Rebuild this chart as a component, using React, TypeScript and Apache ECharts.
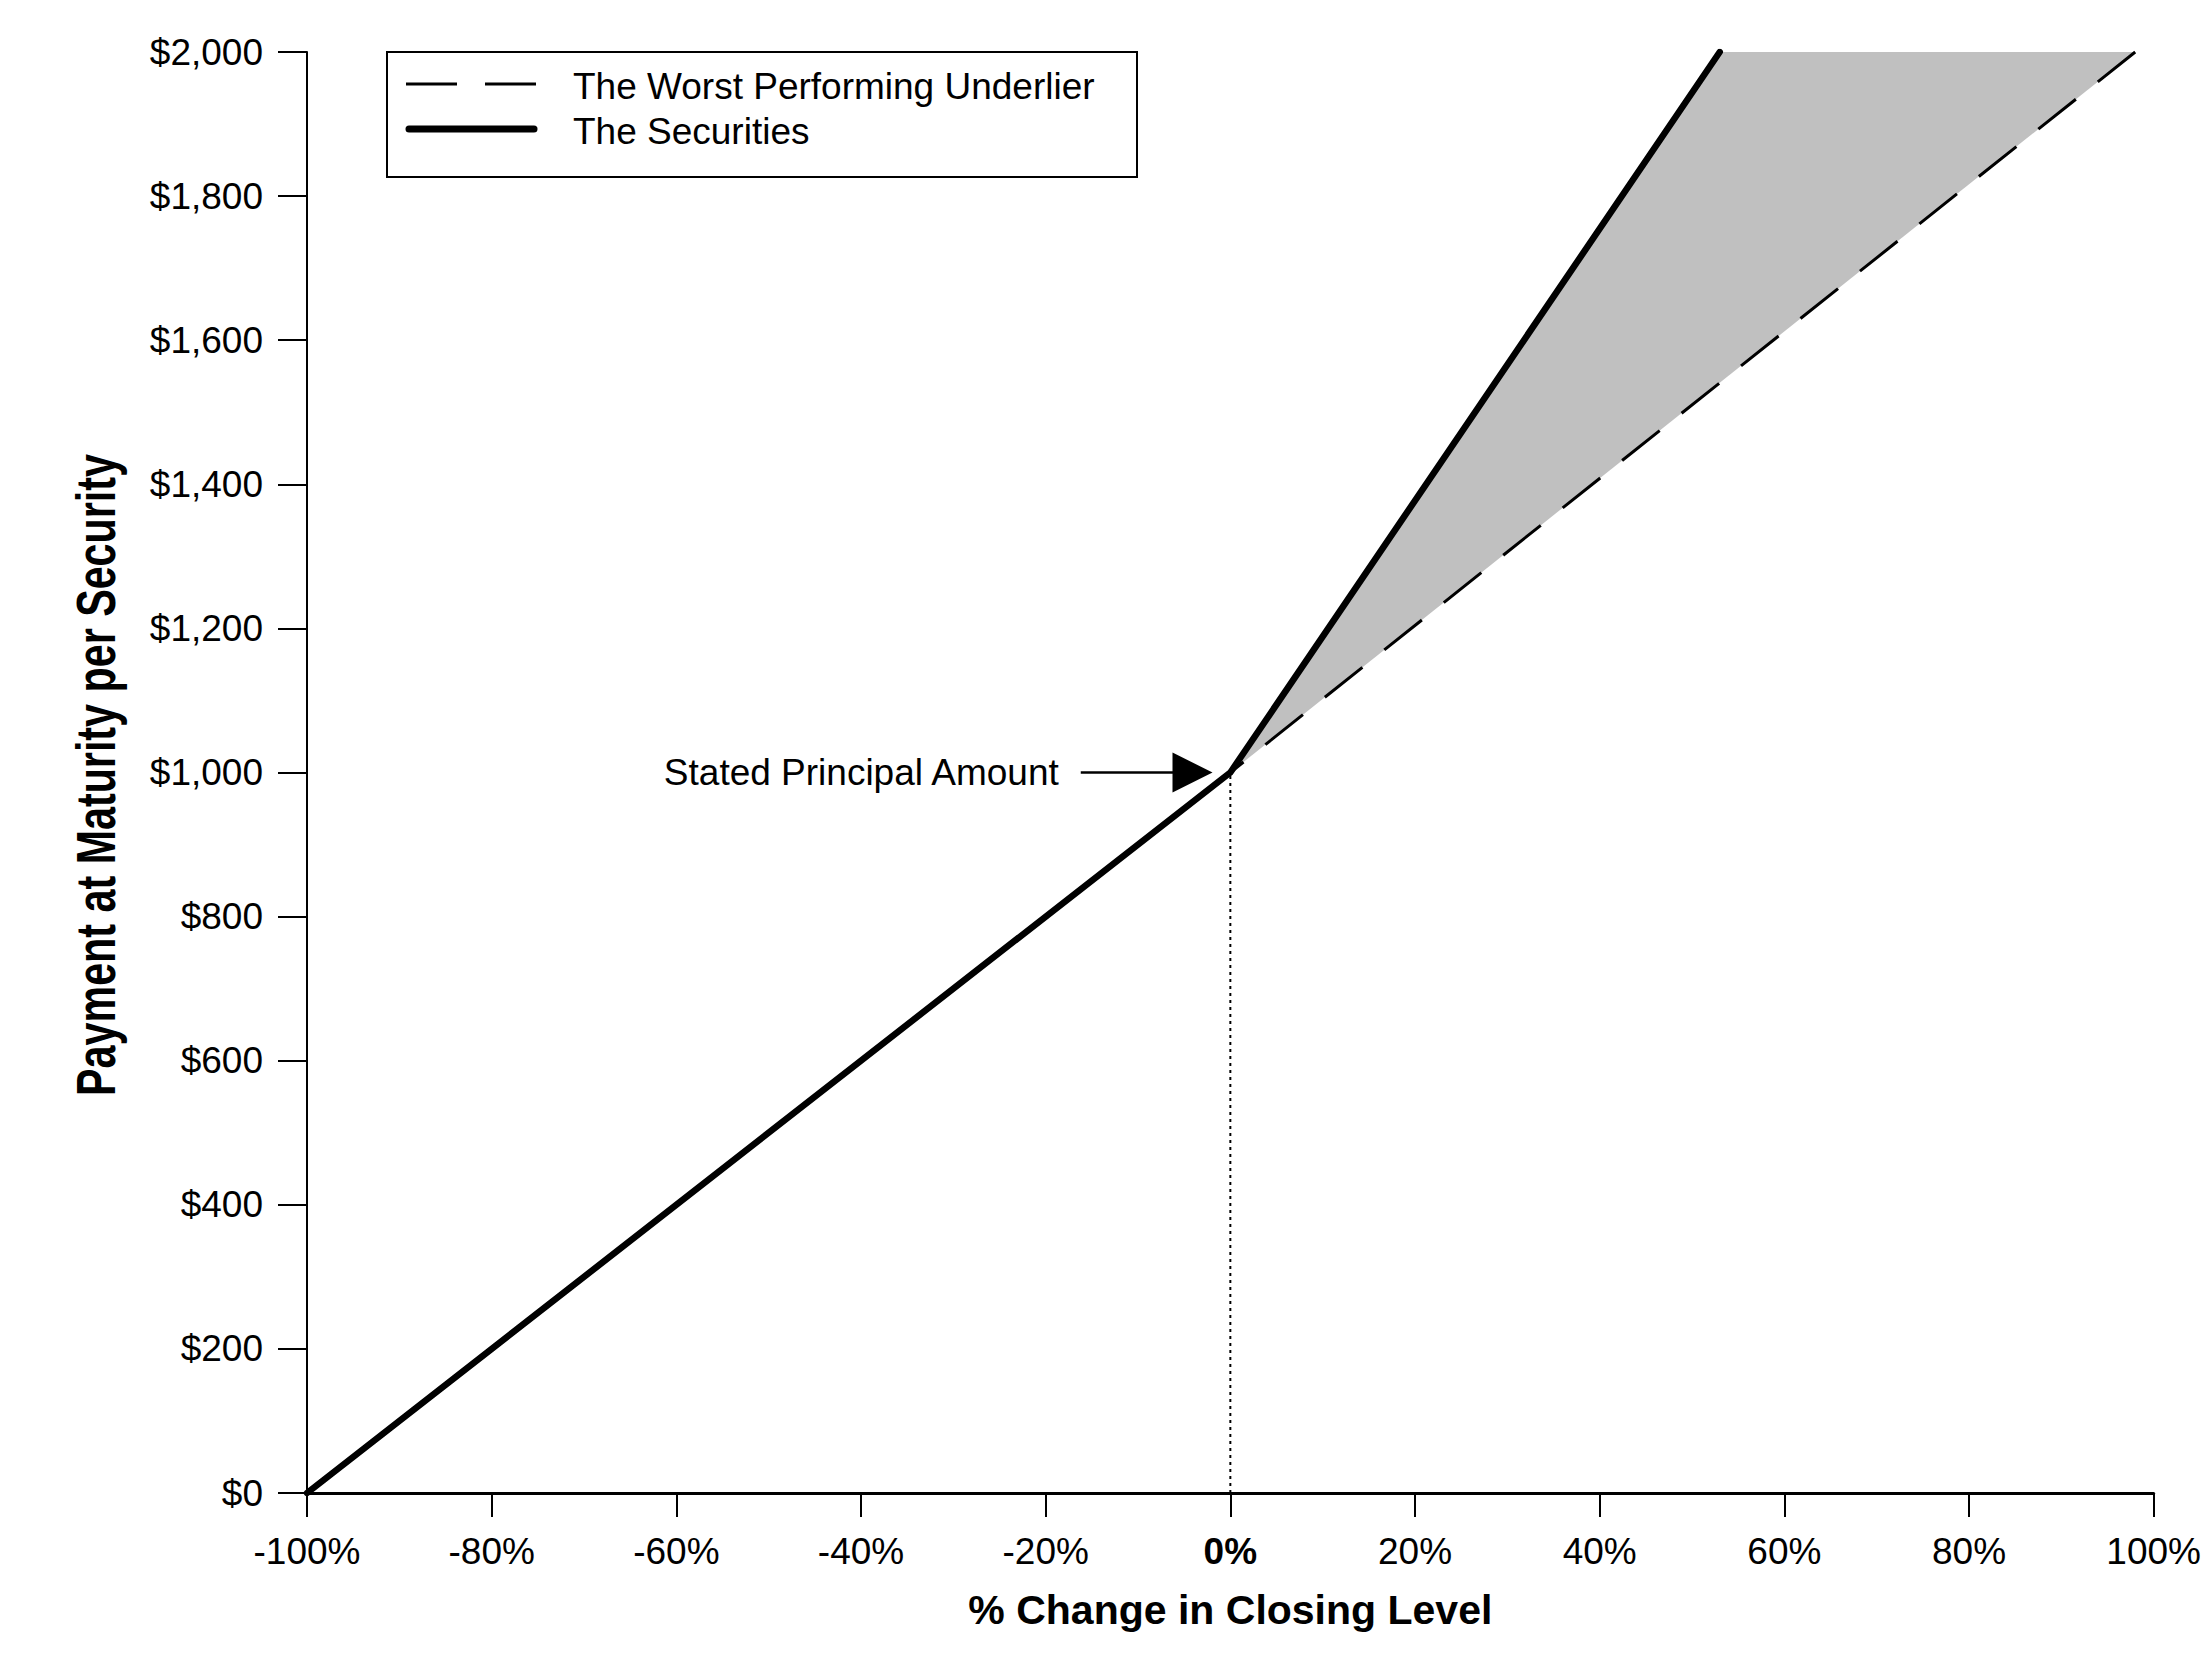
import React, { useEffect, useRef } from "react";
import * as echarts from "echarts";

// ---- data ----
const xMin = -100;
const xMax = 100;
const xStep = 20;
const yMin = 0;
const yMax = 2000;
const yStep = 200;

const seriesNames = ["The Worst Performing Underlier", "The Securities"];

// % change in closing level -> payment at maturity
const underlierX = [-100, 0, 98];
const underlierY = [0, 1000, 2000];
const securitiesX = [-100, 0, 53];
const securitiesY = [0, 1000, 2000];

// shaded out-performance region
const shadeX = [0, 53, 98];
const shadeY = [1000, 2000, 2000];

// dotted drop line at stated principal
const principalX = [0, 0];
const principalY = [0, 1000];

// annotation arrow
const arrowX = [-16.2, -4.1];
const arrowY = [1000, 1000];
const annotationText = "Stated Principal Amount";

const xTitle = "% Change in Closing Level";
const yTitle = "Payment at Maturity per Security";

const FONT = '"Liberation Sans", Arial, Helvetica, sans-serif';

const zip = (xs: number[], ys: number[]) => xs.map((x, i) => [x, ys[i]]);

export default function App() {
  const ref = useRef<HTMLDivElement>(null);

  useEffect(() => {
    if (!ref.current) return;
    const chart = echarts.init(ref.current, undefined, { renderer: "svg" });

    const option: any = {
      animation: false,
      backgroundColor: "#ffffff",
      textStyle: { fontFamily: FONT, color: "#000" },
      grid: { left: 307, right: 35, top: 52, bottom: 171, containLabel: false },
      xAxis: {
        type: "value",
        min: xMin,
        max: xMax,
        interval: xStep,
        splitLine: { show: false },
        axisLine: { onZero: false, lineStyle: { color: "#000", width: 3 } },
        axisTick: { length: 24, lineStyle: { color: "#000", width: 2 } },
        axisLabel: {
          fontSize: 37,
          color: "#000",
          fontFamily: FONT,
          margin: 40,
          formatter: (v: number) => (v === 0 ? "{b|0%}" : v + "%"),
          rich: { b: { fontSize: 37, fontWeight: "bold", color: "#000", fontFamily: FONT } },
        },
        name: xTitle,
        nameLocation: "middle",
        nameGap: 96,
        nameTextStyle: { fontSize: 41, fontWeight: "bold", color: "#000", fontFamily: FONT },
      },
      yAxis: {
        type: "value",
        min: yMin,
        max: yMax,
        interval: yStep,
        splitLine: { show: false },
        axisLine: { show: true, onZero: false, lineStyle: { color: "#000", width: 2 } },
        axisTick: { show: true, length: 29, lineStyle: { color: "#000", width: 2 } },
        axisLabel: {
          fontSize: 37,
          color: "#000",
          fontFamily: FONT,
          margin: 44,
          formatter: (v: number) => "$" + v.toLocaleString("en-US"),
        },
      },
      graphic: [
        {
          type: "text",
          x: 96,
          y: 775,
          rotation: Math.PI / 2,
          scaleX: 0.75,
          style: {
            text: yTitle,
            font: `bold 55px ${FONT}`,
            fill: "#000",
            align: "center",
            verticalAlign: "middle",
          },
        },
        // legend box
        {
          type: "group",
          children: [
            {
              type: "rect",
              shape: { x: 387, y: 52, width: 750, height: 125 },
              style: { fill: "#fff", stroke: "#000", lineWidth: 2 },
            },
            {
              type: "line",
              shape: { x1: 406, y1: 84, x2: 537, y2: 84 },
              style: { stroke: "#000", lineWidth: 3, lineDash: [51, 28] },
            },
            {
              type: "line",
              shape: { x1: 409, y1: 129, x2: 534, y2: 129 },
              style: { stroke: "#000", lineWidth: 7, lineCap: "round" },
            },
            {
              type: "text",
              x: 573,
              y: 86,
              style: {
                text: seriesNames[0],
                font: `37px ${FONT}`,
                fill: "#000",
                align: "left",
                verticalAlign: "middle",
              },
            },
            {
              type: "text",
              x: 573,
              y: 131,
              style: {
                text: seriesNames[1],
                font: `37px ${FONT}`,
                fill: "#000",
                align: "left",
                verticalAlign: "middle",
              },
            },
          ],
        },
      ],
      series: [
        {
          type: "custom",
          name: "shade",
          silent: true,
          clip: false,
          data: [zip(shadeX, shadeY)[0]],
          renderItem: (params: any, api: any) => ({
            type: "polygon",
            shape: { points: shadeX.map((x, i) => api.coord([x, shadeY[i]])) },
            style: { fill: "#C0C0C0", stroke: "none" },
          }),
        },
        {
          type: "line",
          name: seriesNames[0],
          data: zip(underlierX, underlierY),
          symbol: "none",
          silent: true,
          lineStyle: { color: "#000", width: 3, type: [48, 28] },
          itemStyle: { color: "#000" },
        },
        {
          type: "line",
          name: seriesNames[1],
          data: zip(securitiesX, securitiesY),
          symbol: "none",
          silent: true,
          lineStyle: { color: "#000", width: 6.5, cap: "round", join: "round" },
          itemStyle: { color: "#000" },
        },
        {
          type: "line",
          name: "principal",
          data: zip(principalX, principalY),
          symbol: "none",
          silent: true,
          lineStyle: { color: "#000", width: 2, type: [3, 4] },
          markLine: {
            silent: true,
            symbol: ["none", "triangle"],
            symbolSize: 40,
            itemStyle: { color: "#000" },
            lineStyle: { color: "#000", width: 2.5, type: "solid" },
            label: {
              show: true,
              position: "start",
              distance: 22,
              formatter: annotationText,
              fontSize: 37,
              color: "#000",
              fontFamily: FONT,
            },
            emphasis: { disabled: true },
            data: [
              [
                { coord: [arrowX[0], arrowY[0]] },
                { coord: [arrowX[1], arrowY[1]] },
              ],
            ],
          },
        },
      ],
    };

    chart.setOption(option);
    return () => chart.dispose();
  }, []);

  return (
    <div
      ref={ref}
      style={{ position: "fixed", left: 0, top: 0, width: 2204, height: 1664, background: "#fff" }}
    />
  );
}
